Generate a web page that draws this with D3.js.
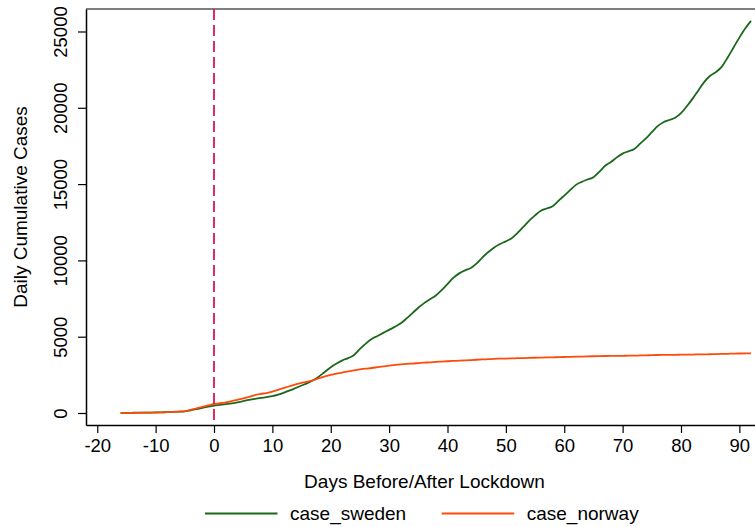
<!DOCTYPE html>
<html><head><meta charset="utf-8">
<script src="https://cdn.jsdelivr.net/npm/d3@7"></script>
<style>body{margin:0;background:#fff}svg{display:block}text{font-family:"Liberation Sans",Arial,sans-serif;fill:#000}</style>
</head><body>
<svg id="c" width="755" height="527"></svg>
<script>
const days = d3.range(-16, 93);
const caseSweden = [10,12,15,20,25,30,35,45,60,75,90,110,180,250,330,420,
480,530,580,630,700,780,860,930,990,1040,
1100,1200,1330,1480,1640,1800,1960,2150,2400,2700,
3000,3250,3450,3600,3800,4200,4550,4850,5050,5250,
5450,5650,5880,6200,6550,6900,7200,7450,7700,8050,
8450,8850,9150,9350,9500,9800,10200,10550,10850,11070,
11250,11450,11800,12200,12600,12950,13250,13400,13550,13900,
14250,14600,14950,15150,15300,15450,15800,16200,16450,16750,
17000,17150,17300,17650,18000,18400,18800,19050,19200,19350,
19650,20100,20600,21150,21700,22100,22350,22700,23300,23950,
24600,25200,25700];
const caseNorway = [5,7,10,15,20,25,30,40,55,75,95,120,200,300,400,500,
590,640,700,780,860,960,1060,1170,1250,1310,
1400,1520,1640,1760,1880,1970,2060,2160,2280,2400,
2500,2580,2650,2730,2800,2860,2910,2950,3000,3050,
3100,3150,3190,3220,3240,3270,3300,3320,3350,3370,
3390,3410,3430,3450,3470,3490,3510,3530,3550,3560,
3570,3580,3590,3600,3610,3620,3630,3640,3650,3660,
3670,3680,3690,3700,3710,3720,3730,3735,3740,3745,
3750,3755,3760,3770,3780,3790,3800,3805,3810,3815,
3820,3825,3830,3840,3845,3850,3860,3870,3880,3890,
3900,3905,3910];
const xTicks = [-20,-10,0,10,20,30,40,50,60,70,80,90];
const yTicks = [0,5000,10000,15000,20000,25000];
const seriesNames = ["case_sweden","case_norway"];
const seriesColors = ["#1b671b","#ff4a0a"];
const lockdownDay = 0;

const svg = d3.select("#c");
const L = 86, R = 763, T = 9, B = 425;
const x = d3.scaleLinear().domain([-21.93, 94.05]).range([L, R]);
const y = d3.scaleLinear().domain([-786, 26474]).range([B, T]);
const fmt = d => String(d);

// top frame
svg.append("line").attr("x1", L).attr("x2", R).attr("y1", T).attr("y2", T)
  .attr("stroke", "#555").attr("stroke-width", 1.5);

// lines
const line = d3.line().x((d, i) => x(days[i])).y(d => y(d)).curve(d3.curveMonotoneX);
[caseSweden, caseNorway].forEach((s, k) => {
  svg.append("path").datum(s).attr("d", line).attr("fill", "none")
    .attr("stroke", seriesColors[k]).attr("stroke-width", 1.8);
});

// lockdown line
svg.append("line").attr("x1", x(lockdownDay)).attr("x2", x(lockdownDay))
  .attr("y1", y.range()[1]).attr("y2", y.range()[0])
  .attr("stroke", "#dc1450").attr("stroke-width", 1.8).attr("stroke-dasharray", "11,5");

// x axis
const xa = svg.append("g").attr("transform", `translate(0,${B})`)
  .call(d3.axisBottom(x).tickValues(xTicks).tickFormat(fmt).tickSize(8).tickPadding(6).tickSizeOuter(0));
xa.select(".domain").attr("stroke", "#000").attr("stroke-width", 1.5);
xa.selectAll(".tick line").attr("stroke", "#000").attr("stroke-width", 1.2);
xa.selectAll(".tick text").attr("font-size", 18.5).attr("font-family", "Liberation Sans, Arial, sans-serif");

// y axis
const ya = svg.append("g").attr("transform", `translate(${L},0)`)
  .call(d3.axisLeft(y).tickValues(yTicks).tickSize(8).tickFormat(fmt).tickSizeOuter(0));
ya.select(".domain").attr("stroke", "#000").attr("stroke-width", 1.5);
ya.selectAll(".tick line").attr("stroke", "#000").attr("stroke-width", 1.2);
ya.selectAll(".tick text").attr("font-size", 18.5).attr("font-family", "Liberation Sans, Arial, sans-serif")
  .attr("text-anchor", "middle").attr("dy", 0).attr("x", 0).attr("y", 0)
  .attr("transform", "translate(-19,0) rotate(-90)");

// axis titles
svg.append("text").attr("x", 424.5).attr("y", 488).attr("text-anchor", "middle")
  .attr("font-size", 19).text("Days Before/After Lockdown");
svg.append("text").attr("transform", "translate(27,207) rotate(-90)").attr("text-anchor", "middle")
  .attr("font-size", 19).text("Daily Cumulative Cases");

// legend
const legX = [205, 441.7];
seriesNames.forEach((n, k) => {
  svg.append("line").attr("x1", legX[k]).attr("x2", legX[k] + 72.5).attr("y1", 513.5).attr("y2", 513.5)
    .attr("stroke", seriesColors[k]).attr("stroke-width", 1.8);
  svg.append("text").attr("x", legX[k] + 85).attr("y", 519.5).attr("font-size", 19).text(n);
});
</script>
</body></html>
